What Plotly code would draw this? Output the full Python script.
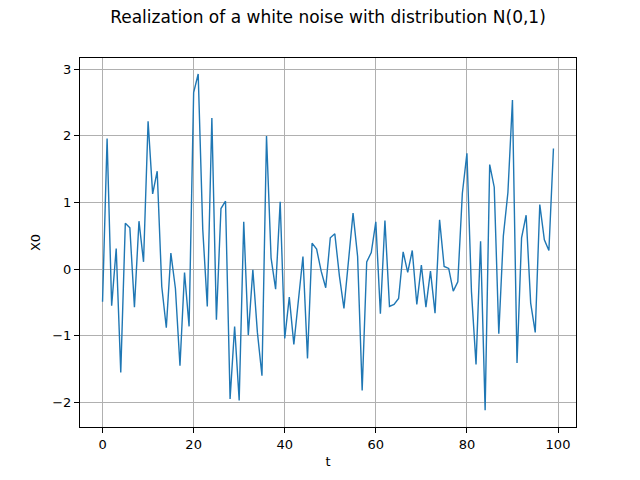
import plotly.graph_objects as go

t = list(range(100))
x0 = [
    -0.49, 1.96, -0.55, 0.31, -1.55, 0.69, 0.62, -0.57, 0.72, 0.11,
    2.22, 1.13, 1.47, -0.26, -0.88, 0.24, -0.29, -1.45, -0.05, -0.86,
    2.65, 2.93, 0.6, -0.56, 2.27, -0.76, 0.91, 1.02, -1.95, -0.86,
    -1.97, 0.71, -0.99, -0.01, -0.95, -1.6, 2.0, 0.17, -0.3, 1.01,
    -1.04, -0.42, -1.13, -0.45, 0.19, -1.34, 0.39, 0.3, -0.03, -0.28,
    0.47, 0.53, -0.1, -0.59, 0.15, 0.84, 0.19, -1.82, 0.11, 0.25,
    0.71, -0.67, 0.73, -0.56, -0.53, -0.44, 0.26, -0.05, 0.28, -0.53,
    0.06, -0.57, -0.03, -0.66, 0.74, 0.04, 0.01, -0.33, -0.19, 1.14,
    1.74, -0.34, -1.43, 0.42, -2.12, 1.57, 1.23, -0.97, 0.5, 1.15,
    2.54, -1.41, 0.47, 0.81, -0.51, -0.95, 0.97, 0.44, 0.28, 1.81,
]
x_ticks = [0, 20, 40, 60, 80, 100]
y_ticks = [-2, -1, 0, 1, 2, 3]
y_tick_text = ["\u22122", "\u22121", "0", "1", "2", "3"]

fig = go.Figure()
fig.add_trace(go.Scatter(x=t, y=x0, mode="lines",
                         line=dict(color="#1f77b4", width=1.4),
                         showlegend=False, hoverinfo="skip"))

font = dict(family="DejaVu Sans", size=13, color="black")
axis_common = dict(
    showline=True, linecolor="black", linewidth=1, mirror=True,
    showgrid=True, gridcolor="#b0b0b0", gridwidth=1,
    ticks="outside", ticklen=5, tickwidth=1, tickcolor="black",
    zeroline=False, tickfont=font,
)
fig.update_layout(
    width=640, height=480,
    paper_bgcolor="white", plot_bgcolor="white",
    margin=dict(l=72, r=72, t=50, b=61),
    font=font,
    title=dict(text="Realization of a white noise with distribution N(0,1)",
               x=0.5, xanchor="center", xref="container",
               y=1 - 9 / 480, yanchor="middle", yref="container",
               font=dict(family="DejaVu Sans", size=17, color="black")),
    xaxis=dict(range=[-4.95, 103.95], tickvals=x_ticks,
               title=dict(text="t", font=font, standoff=6), **axis_common),
    yaxis=dict(range=[-2.37, 3.17], tickvals=y_ticks, ticktext=y_tick_text,
               title=dict(text="X0", font=font, standoff=8), **axis_common),
)
fig.write_html("out.html")
